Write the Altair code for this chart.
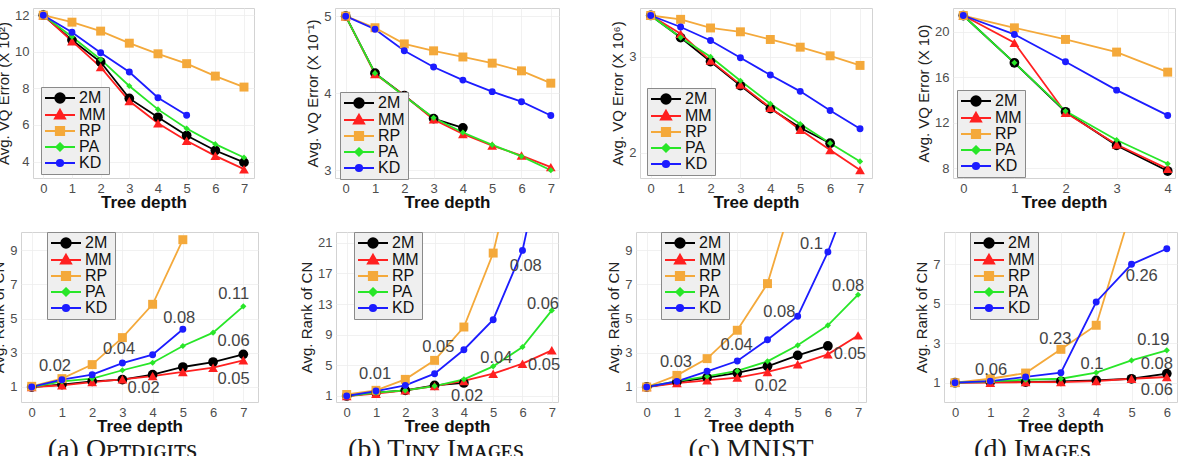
import altair as alt
import pandas as pd

# ---------------------------------------------------------------- data
methods = ["2M", "MM", "RP", "PA", "KD"]
method_colors = ["#000000", "#ff2020", "#f4a93b", "#28e628", "#1c1cff"]
marker_shapes = ["circle", "triangle-up", "square", "diamond", "circle"]
marker_sizes = [95, 95, 80, 38, 48]

# legend keys: a short line segment with the marker drawn on top
legend_paths = [
    "M-3.75,0H3.75M1.2,0A1.2,1.2,0,1,1,-1.2,0A1.2,1.2,0,1,1,1.2,0Z",
    "M-3.75,0H3.75M0,-1.35L1.3,0.9L-1.3,0.9Z",
    "M-3.75,0H3.75M-1.05,-1.05H1.05V1.05H-1.05Z",
    "M-3.75,0H3.75M0,-0.95L0.95,0L0,0.95L-0.95,0Z",
    "M-3.75,0H3.75M0.8,0A0.8,0.8,0,1,1,-0.8,0A0.8,0.8,0,1,1,0.8,0Z",
]

# average VQ error per tree depth
opt_vq_2m = [12.0, 10.64, 9.44, 7.45, 6.42, 5.42, 4.60, 3.95]
opt_vq_mm = [12.0, 10.58, 9.16, 7.31, 6.09, 5.13, 4.31, 3.58]
opt_vq_rp = [12.0, 11.62, 11.13, 10.47, 9.89, 9.35, 8.67, 8.07]
opt_vq_pa = [12.0, 10.82, 9.58, 8.13, 6.85, 5.80, 4.95, 4.22]
opt_vq_kd = [12.0, 11.07, 9.95, 8.89, 7.49, 6.53]

tiny_vq_2m = [5.0, 4.26, 3.97, 3.67, 3.55]
tiny_vq_mm = [5.0, 4.25, 3.97, 3.66, 3.47, 3.32, 3.19, 3.04]
tiny_vq_rp = [5.0, 4.85, 4.64, 4.55, 4.47, 4.39, 4.29, 4.13]
tiny_vq_pa = [5.0, 4.26, 3.96, 3.68, 3.49, 3.33, 3.18, 3.00]
tiny_vq_kd = [5.0, 4.83, 4.55, 4.34, 4.17, 4.02, 3.89, 3.71]

mnist_vq_2m = [3.43, 3.20, 2.95, 2.70, 2.46, 2.26, 2.10]
mnist_vq_mm = [3.43, 3.24, 2.96, 2.71, 2.47, 2.24, 2.03, 1.82]
mnist_vq_rp = [3.43, 3.39, 3.30, 3.26, 3.18, 3.10, 3.01, 2.91]
mnist_vq_pa = [3.43, 3.20, 3.00, 2.75, 2.51, 2.30, 2.10, 1.91]
mnist_vq_kd = [3.43, 3.31, 3.17, 2.99, 2.81, 2.64, 2.44, 2.25]

img_vq_2m = [21.43, 17.28, 12.98, 10.03, 7.78]
img_vq_mm = [21.43, 19.04, 12.90, 10.10, 7.97]
img_vq_rp = [21.43, 20.35, 19.33, 18.22, 16.46]
img_vq_pa = [21.43, 17.28, 13.04, 10.50, 8.42]
img_vq_kd = [21.43, 19.77, 17.37, 14.88, 12.66]

# average rank of the closest neighbour per tree depth
opt_rank_2m = [1.0, 1.14, 1.33, 1.43, 1.72, 2.17, 2.46, 2.91]
opt_rank_mm = [1.0, 1.10, 1.29, 1.45, 1.64, 1.88, 2.13, 2.56]
opt_rank_rp = [1.04, 1.49, 2.31, 3.89, 5.84, 9.62]
opt_rank_pa = [1.0, 1.33, 1.49, 1.98, 2.42, 3.40, 4.18, 5.72]
opt_rank_kd = [1.0, 1.43, 1.72, 2.40, 2.89, 4.38]

tiny_rank_2m = [1.0, 1.43, 1.74, 2.39, 2.70]
tiny_rank_mm = [1.0, 1.30, 1.74, 2.30, 2.96, 3.91, 5.22, 6.96]
tiny_rank_rp = [1.2, 1.74, 3.17, 5.65, 10.0, 19.65, 36.0]
tiny_rank_pa = [1.0, 1.43, 1.74, 2.30, 3.17, 4.87, 7.39, 12.17]
tiny_rank_kd = [1.0, 1.65, 2.39, 3.91, 7.04, 10.96, 20.0, 37.5]

mnist_rank_2m = [1.0, 1.29, 1.55, 1.82, 2.21, 2.85, 3.40]
mnist_rank_mm = [1.0, 1.23, 1.39, 1.55, 1.88, 2.33, 2.91, 4.02]
mnist_rank_rp = [1.0, 1.68, 2.66, 4.32, 7.05, 12.9]
mnist_rank_pa = [1.0, 1.35, 1.62, 1.94, 2.50, 3.44, 4.61, 6.40]
mnist_rank_kd = [1.0, 1.33, 1.92, 2.52, 3.77, 5.14, 8.90, 13.5]

img_rank_2m = [1.0, 1.03, 1.03, 1.07, 1.12, 1.20, 1.46]
img_rank_mm = [1.0, 1.00, 1.03, 1.03, 1.08, 1.20, 1.29]
img_rank_rp = [1.0, 1.20, 1.49, 2.69, 3.91, 9.8]
img_rank_pa = [1.0, 1.07, 1.15, 1.20, 1.51, 2.13, 2.64]
img_rank_kd = [1.0, 1.08, 1.29, 1.51, 5.09, 7.00, 7.79]

# annotations on the rank panels
opt_note_text = ["0.02", "0.04", "0.08", "0.11", "0.06", "0.05", "0.02"]
opt_note_x = [0.77, 2.89, 4.88, 6.68, 6.68, 6.68, 3.70]
opt_note_y = [2.23, 3.24, 5.04, 6.46, 3.67, 1.45, 0.94]

tiny_note_text = ["0.01", "0.05", "0.08", "0.06", "0.04", "0.05", "0.02"]
tiny_note_x = [0.97, 3.13, 6.11, 6.70, 5.11, 6.74, 4.11]
tiny_note_y = [3.91, 7.39, 17.9, 12.96, 6.0, 5.0, 1.0]

mnist_note_text = ["0.03", "0.04", "0.08", "0.1", "0.08", "0.05", "0.02"]
mnist_note_x = [0.97, 2.98, 4.39, 5.46, 6.67, 6.73, 4.11]
mnist_note_y = [2.46, 3.48, 5.39, 9.39, 6.91, 2.95, 1.04]

img_note_text = ["0.06", "0.23", "0.1", "0.26", "0.19", "0.08", "0.06"]
img_note_x = [1.02, 2.84, 3.88, 5.29, 5.62, 5.72, 5.72]
img_note_y = [1.63, 3.20, 1.96, 6.39, 3.15, 1.96, 0.65]

FONT = "Liberation Sans"
SERIF = "Liberation Serif, DejaVu Serif, serif"

INDEPENDENT = dict(fill="independent", stroke="independent", shape="independent")


def long_frame(series):
    rows = []
    for m, vals in zip(methods, series):
        for d, v in enumerate(vals):
            rows.append({"method": m, "depth": d, "value": v})
    return pd.DataFrame(rows)


def panel(series, ytitle, ydomain, yticks, xdomain, xmax, width, height,
          legend_x, legend_y, row_pad, notes=None, caption=None, caption_dx=0):
    df = long_frame(series)
    x = alt.X("depth:Q",
              scale=alt.Scale(domain=xdomain, nice=False, zero=False),
              axis=alt.Axis(values=list(range(xmax + 1)), title="Tree depth",
                            format="d", labelOverlap=False))
    y = alt.Y("value:Q",
              scale=alt.Scale(domain=ydomain, nice=False, zero=False),
              axis=alt.Axis(values=yticks, title=ytitle, format="d",
                            labelOverlap=False))
    base = alt.Chart(df).encode(x=x, y=y)

    # one line per method first, then the markers on top
    layers = []
    for m, c in zip(methods, method_colors):
        layers.append(
            base.transform_filter(alt.datum.method == m)
            .mark_line(color=c, strokeWidth=1.8, clip=True)
            .encode(order=alt.Order("depth:Q"))
        )
    for m, c, sh, sz in zip(methods, method_colors, marker_shapes, marker_sizes):
        layers.append(
            base.transform_filter(alt.datum.method == m).mark_point(
                shape=sh, size=sz, filled=True, color=c, opacity=1, clip=True)
        )

    if notes is not None:
        nt, nx, ny = notes
        ndf = pd.DataFrame({"depth": nx, "value": ny, "label": nt})
        layers.append(
            alt.Chart(ndf).mark_text(font=FONT, fontSize=16.5, color="#444444")
            .encode(x=x, y=y, text="label:N")
        )

    leg = alt.Legend(
        orient="none", legendX=legend_x, legendY=legend_y, title=None,
        direction="vertical", fillColor="#efefef", strokeColor="#8a8a8a",
        padding=3, labelFont=FONT, labelFontSize=16, labelColor="#111111",
        symbolSize=64, symbolStrokeWidth=1.8, symbolOffset=8,
        symbolOpacity=1, labelOffset=11, rowPadding=row_pad,
    )
    # marks without rows: they only carry the legend
    key = base.transform_filter("false").mark_point(
        filled=True, opacity=1, strokeWidth=1.8).encode(
        fill=alt.Fill("method:N",
                      scale=alt.Scale(domain=methods, range=method_colors),
                      legend=leg),
        stroke=alt.Stroke("method:N",
                          scale=alt.Scale(domain=methods, range=method_colors),
                          legend=leg),
        shape=alt.Shape("method:N",
                        scale=alt.Scale(domain=methods, range=legend_paths),
                        legend=leg),
    )
    layers.append(key)

    chart = alt.layer(*layers).properties(width=width, height=height)
    if caption is not None:
        chart = chart.properties(title=alt.TitleParams(
            text=caption, orient="bottom", anchor="middle", font=SERIF,
            fontSize=28, fontWeight="normal", color="#1a1a1a", offset=2,
            dx=caption_dx))
    return chart


TOP_H = 170
BOT_H = 170

pa = panel([opt_vq_2m, opt_vq_mm, opt_vq_rp, opt_vq_pa, opt_vq_kd],
           "Avg. VQ Error (X 10²)", [3.098, 12.394], [4, 6, 8, 10, 12],
           [-0.359, 7.349], 7, 221, TOP_H, 8, 79, -2)
pb = panel([tiny_vq_2m, tiny_vq_mm, tiny_vq_rp, tiny_vq_pa, tiny_vq_kd],
           "Avg. VQ Error (X 10⁻¹)", [2.899, 5.106], [3, 4, 5],
           [-0.365, 7.28], 7, 224, TOP_H, 5, 84, -2)
pc = panel([mnist_vq_2m, mnist_vq_mm, mnist_vq_rp, mnist_vq_pa, mnist_vq_kd],
           "Avg. VQ Error (X 10⁶)", [1.7375, 3.508], [2, 3],
           [-0.358, 7.40], 7, 232, TOP_H, 7, 80, -2)
pd_ = panel([img_vq_2m, img_vq_mm, img_vq_rp, img_vq_pa, img_vq_kd],
            "Avg. VQ Error (X 10)", [7.166, 22.09], [8, 12, 16, 20],
            [-0.2016, 4.143], 4, 222, TOP_H, 4, 82, -2)

qa = panel([opt_rank_2m, opt_rank_mm, opt_rank_rp, opt_rank_pa, opt_rank_kd],
           "Avg. Rank of CN", [0.122, 10.07], [1, 3, 5, 7, 9],
           [-0.354, 7.486], 7, 237, BOT_H, 26, 0, -1,
           notes=(opt_note_text, opt_note_x, opt_note_y),
           caption="(a) Oᴘᴛᴅɪɢɪᴛs", caption_dx=-17)
qb = panel([tiny_rank_2m, tiny_rank_mm, tiny_rank_rp, tiny_rank_pa, tiny_rank_kd],
           "Avg. Rank of CN", [0.217, 22.4], [1, 5, 9, 13, 17, 21],
           [-0.365, 7.212], 7, 222, BOT_H, 18, 0, -1,
           notes=(tiny_note_text, tiny_note_x, tiny_note_y),
           caption="(b) Tɪɴʏ Iᴍᴀɢᴇs", caption_dx=-11)
qc = panel([mnist_rank_2m, mnist_rank_mm, mnist_rank_rp, mnist_rank_pa, mnist_rank_kd],
           "Avg. Rank of CN", [0.122, 10.07], [1, 3, 5, 7, 9],
           [-0.354, 7.262], 7, 230, BOT_H, 25, 0, -1,
           notes=(mnist_note_text, mnist_note_x, mnist_note_y),
           caption="(c) MNIST", caption_dx=0)
qd = panel([img_rank_2m, img_rank_mm, img_rank_rp, img_rank_pa, img_rank_kd],
           "Avg. Rank of CN", [0.022, 8.637], [1, 3, 5, 7],
           [-0.312, 6.289], 6, 233, BOT_H, 26, 0, -1,
           notes=(img_note_text, img_note_x, img_note_y),
           caption="(d) Iᴍᴀɢᴇs", caption_dx=-28)

# small invisible block that shifts the upper row to the right
spacer = alt.Chart(pd.DataFrame({"v": [0]})).mark_point(opacity=0).encode(
    x=alt.value(0), y=alt.value(0)
).properties(width=1, height=1, view=alt.ViewBackground(stroke="transparent"))

top_inner = alt.hconcat(pa, pb, pc, pd_, spacing=81, bounds="flush") \
    .resolve_scale(**INDEPENDENT).resolve_legend(**INDEPENDENT)
top_row = alt.hconcat(spacer, top_inner, spacing=11, bounds="flush") \
    .resolve_scale(**INDEPENDENT).resolve_legend(**INDEPENDENT)
bottom_row = alt.hconcat(qa, qb, qc, qd, spacing=78, bounds="flush") \
    .resolve_scale(**INDEPENDENT).resolve_legend(**INDEPENDENT)

chart = (
    alt.vconcat(top_row, bottom_row, spacing=20, bounds="full")
    .resolve_scale(**INDEPENDENT).resolve_legend(**INDEPENDENT)
    .properties(padding={"left": -9, "top": 4, "right": 0, "bottom": -9},
                background="white")
    .configure_view(stroke="#d3d3d3", strokeWidth=1)
    .configure_axis(ticks=False, domain=False, grid=True, gridColor="#eeeeee",
                    gridWidth=0.8, labelFont=FONT, labelFontSize=13,
                    labelColor="#4d4d4d", titleFont=FONT, labelPadding=4)
    .configure_axisX(titleFontSize=17, titleFontWeight="bold",
                     titleColor="#111111", titlePadding=-1)
    .configure_axisY(titleFontSize=15, titleFontWeight="normal",
                     titleColor="#222222", titlePadding=3)
)

chart.save("out.html", embed_options={"renderer": "svg", "actions": False})
